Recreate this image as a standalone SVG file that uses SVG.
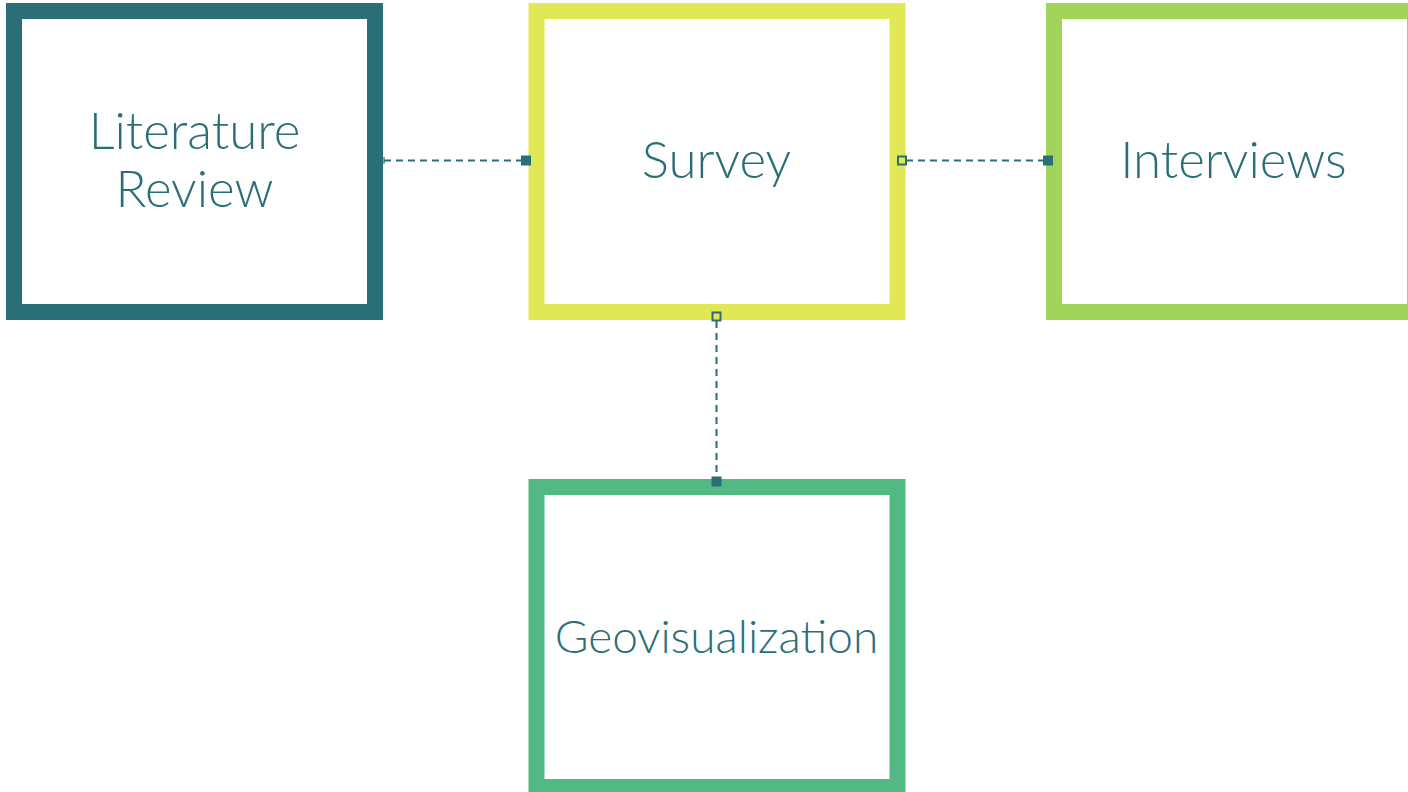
<svg xmlns="http://www.w3.org/2000/svg" width="1408" height="792" viewBox="0 0 1408 792">
  <style>
    .box { fill: #ffffff; stroke-width: 16; }
    .lbl { font-family: Lato, "Open Sans", sans-serif; font-size: 51px; font-weight: 300; fill: #2A6F78; text-anchor: middle; }
    .small { font-size: 46px; }
    .conn { stroke: #2A6F78; stroke-width: 2; stroke-dasharray: 7 5; fill: none; }
    .end-open { fill: #E0E855; stroke: #2A6F78; stroke-width: 2; }
    .end-fill { fill: #2A6F78; }
  </style>
  <rect width="1408" height="792" fill="#ffffff"/>
  <g id="literature-review">
    <rect class="box" x="14" y="11" width="361" height="301" stroke="#2A6F78"/>
    <text class="lbl" x="194.5" y="149">Literature</text>
    <text class="lbl" x="194.5" y="207">Review</text>
  </g>
  <g id="survey">
    <rect class="box" x="536.5" y="11" width="361" height="301" stroke="#E0E855"/>
    <text class="lbl" x="716.5" y="178">Survey</text>
  </g>
  <g id="interviews">
    <rect class="box" x="1054" y="11" width="361" height="301" stroke="#A2D45C"/>
    <text class="lbl" x="1233.5" y="178">Interviews</text>
  </g>
  <g id="geovisualization">
    <rect class="box" x="536.5" y="487" width="361" height="300" stroke="#52B985"/>
    <text class="lbl small" x="716.5" y="653">Geovisualization</text>
  </g>
  <g id="connectors">
    <line class="conn" x1="384" y1="160.5" x2="526" y2="160.5"/>
    <rect x="380" y="157" width="5" height="7" fill="#2A6F78" opacity="0.6"/>
    <rect class="end-fill" x="521" y="155.5" width="10" height="10"/>
    <line class="conn" x1="906" y1="160.5" x2="1048" y2="160.5"/>
    <rect class="end-open" x="898" y="156.5" width="8" height="8"/>
    <rect class="end-fill" x="1043" y="155.5" width="10" height="10"/>
    <line class="conn" x1="716.5" y1="321" x2="716.5" y2="481"/>
    <rect class="end-open" x="712.5" y="312.5" width="8" height="8"/>
    <rect class="end-fill" x="711.5" y="476.5" width="10" height="10"/>
  </g>
</svg>
